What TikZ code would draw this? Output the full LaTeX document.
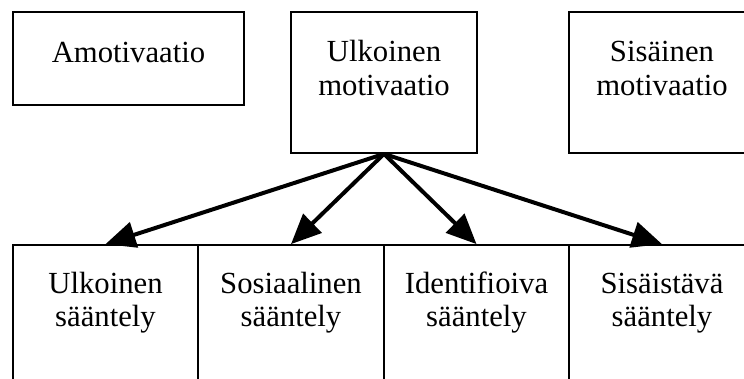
\documentclass[tikz,border=0pt]{standalone}
\usepackage{fontspec}
\setmainfont{Liberation Serif}
\usetikzlibrary{arrows.meta}

\begin{document}
\begin{tikzpicture}[x=1pt, y=-1pt,
		box/.style={draw, line width=1.8pt, inner sep=0pt, align=center, anchor=base,
			font=\fontsize{30.7}{33.5}\selectfont},
		topbox/.style={box, minimum width=186pt, text height=83pt, text depth=58pt},
		lowbox/.style={box, minimum width=185.5pt, text height=81.5pt, text depth=120pt},
		arr/.style={line width=4pt, -{Triangle[length=30pt, width=26pt]}}]
		%%%%% START %%%%%
		
		\useasboundingbox (0, 0) rectangle (744, 378);
		\clip (0, 0) rectangle (744, 378);
		
		\node[box, minimum width=231pt, text height=50pt, text depth=43pt] (amo) at (128.5, 62) {Amotivaatio};
		\node[topbox] (ulk) at (384, 95) {Ulkoinen\\motivaatio};
		\node[topbox] (sis) at (662, 95) {Sisäinen\\motivaatio};
		
		\node[lowbox] (ulks) at (105.5, 326.5) {Ulkoinen\\sääntely};
		\node[lowbox] (sos) at (291, 326.5) {Sosiaalinen\\sääntely};
		\node[lowbox] (ide) at (476.5, 326.5) {Identifioiva\\sääntely};
		\node[lowbox] (sisa) at (662, 326.5) {Sisäistävä\\sääntely};
		
		\draw[arr] (ulk.south) -- (ulks.north);
		\draw[arr] (ulk.south) -- (sos.north);
		\draw[arr] (ulk.south) -- (ide.north);
		\draw[arr] (ulk.south) -- (sisa.north);
		
		%%%%% END %%%%%
	\end{tikzpicture}
\end{document}
